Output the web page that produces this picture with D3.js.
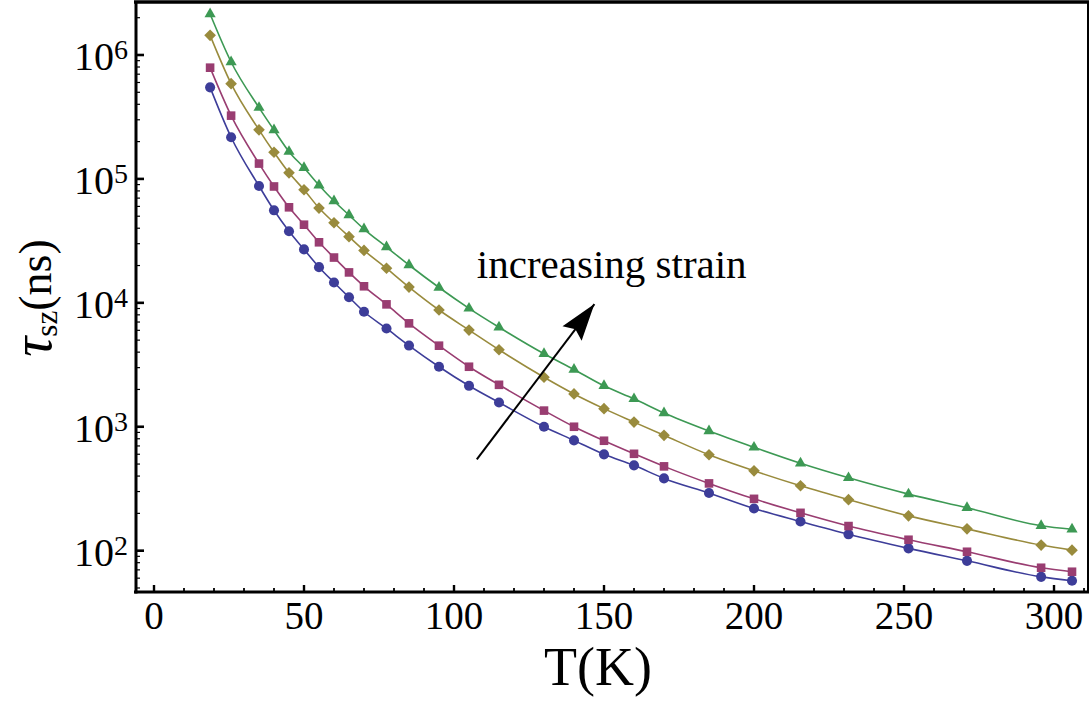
<!DOCTYPE html>
<html>
<head>
<meta charset="utf-8">
<script src="https://cdn.jsdelivr.net/npm/d3@7"></script>
<style>
  html, body { margin: 0; padding: 0; background: #fff; }
  svg { display: block; }
  text { font-family: "Liberation Serif", "Times New Roman", serif; fill: #000; }
</style>
</head>
<body>
<svg id="chart" width="1091" height="704"></svg>
<script>
// ---- data ----
const temps = [18.7, 25.7, 35, 40, 45, 50, 55, 60, 65, 70, 77.5, 85, 95, 105, 115, 130, 140, 150, 160, 170, 185, 200, 215.5, 231.5, 251.5, 271, 295.7, 306];
const seriesNames = ["s1", "s2", "s3", "s4"];
const s1 = [548000, 217000, 87700, 55800, 37800, 27000, 19400, 14600, 11100, 8470, 6210, 4520, 3050, 2140, 1570, 1000, 776, 599, 488, 383, 292, 219, 172, 135.5, 104.4, 82.8, 61.5, 57.2];
const s2 = [790000, 324000, 133000, 86900, 59000, 42700, 30800, 23200, 17600, 13600, 9720, 6830, 4510, 3050, 2180, 1350, 1000, 771, 605, 479, 349, 262, 202, 158, 122.5, 98, 72.8, 67.6];
const s3 = [1440000, 587000, 249000, 164000, 112000, 81800, 58200, 44300, 34200, 26500, 19000, 13400, 8750, 6030, 4180, 2510, 1840, 1400, 1090, 853, 594, 441, 334, 258, 191, 150, 111, 101];
const s4 = [2140000, 878000, 376000, 248000, 166000, 123000, 89000, 66300, 51100, 39400, 28200, 20200, 13300, 9030, 6350, 3880, 2900, 2140, 1680, 1290, 923, 682, 507, 387, 286, 222, 159, 149];
const xMajorTicks = [0, 50, 100, 150, 200, 250, 300];
const yMajorExps = [2, 3, 4, 5, 6];
const annotationText = "increasing strain";
const xTitle = "T(K)";

// ---- layout ----
const colors = ["#3d3d99", "#993d71", "#998b3d", "#3d9954"];
const L = 136, R = 1088, T = 2, B = 592;
const svg = d3.select("#chart");
svg.append("rect").attr("width", 1091).attr("height", 704).attr("fill", "#fff");

const x = d3.scaleLinear().domain([-6, 311.33]).range([L, R]);
const y = d3.scaleLog().domain([46.4, 2.677e6]).range([B, T]);

// series lines and markers
const allSeries = [s1, s2, s3, s4];
const line = d3.line().x(d => x(d[0])).y(d => y(d[1])).curve(d3.curveMonotoneX);
const symbols = [
  d3.symbol().type(d3.symbolCircle).size(80),
  d3.symbol().type(d3.symbolSquare).size(74),
  d3.symbol().type(d3.symbolSquare).size(68),
  d3.symbol().type(d3.symbolTriangle).size(54)
];
allSeries.forEach((vals, i) => {
  const pts = temps.map((t, k) => [t, vals[k]]);
  const g = svg.append("g").attr("class", "series-" + seriesNames[i]);
  g.append("path").attr("d", line(pts)).attr("fill", "none")
    .attr("stroke", colors[i]).attr("stroke-width", 1.6);
  g.selectAll("path.m").data(pts).join("path").attr("class", "m")
    .attr("d", symbols[i])
    .attr("transform", d => `translate(${x(d[0])},${y(d[1])})` + (i === 2 ? " rotate(45)" : ""))
    .attr("fill", colors[i]);
});

// ---- frame ----
const frame = svg.append("g");
frame.append("line").attr("x1", L - 2).attr("x2", R + 1).attr("y1", T).attr("y2", T).attr("stroke", "#000").attr("stroke-width", 3.5);
frame.append("line").attr("x1", R).attr("x2", R).attr("y1", T).attr("y2", B).attr("stroke", "#000").attr("stroke-width", 2);
frame.append("line").attr("x1", L).attr("x2", L).attr("y1", T).attr("y2", B + 1.5).attr("stroke", "#000").attr("stroke-width", 3);
frame.append("line").attr("x1", L - 2).attr("x2", R + 1).attr("y1", B).attr("y2", B).attr("stroke", "#000").attr("stroke-width", 3);

// x ticks (inward)
const xMinor = d3.range(0, 311, 10).filter(v => !xMajorTicks.includes(v));
svg.append("g").selectAll("line").data(xMinor).join("line")
  .attr("x1", d => x(d)).attr("x2", d => x(d)).attr("y1", B).attr("y2", B - 4)
  .attr("stroke", "#000").attr("stroke-width", 1.8);
svg.append("g").selectAll("line").data(xMajorTicks).join("line")
  .attr("x1", d => x(d)).attr("x2", d => x(d)).attr("y1", B).attr("y2", B - 7)
  .attr("stroke", "#000").attr("stroke-width", 2.4);
svg.append("g").selectAll("text").data(xMajorTicks).join("text")
  .attr("x", d => x(d)).attr("y", 629).attr("text-anchor", "middle")
  .attr("font-size", 39).text(d => d);

// y ticks (inward)
const yMinor = [];
for (let e = 1; e <= 6; e++) for (let m = 2; m <= 9; m++) {
  const v = m * Math.pow(10, e);
  if (v >= y.domain()[0] && v <= y.domain()[1]) yMinor.push(v);
}
svg.append("g").selectAll("line").data(yMinor).join("line")
  .attr("x1", L).attr("x2", L + 4).attr("y1", d => y(d)).attr("y2", d => y(d))
  .attr("stroke", "#000").attr("stroke-width", 1.2);
svg.append("g").selectAll("line").data(yMajorExps).join("line")
  .attr("x1", L).attr("x2", L + 8).attr("y1", d => y(Math.pow(10, d))).attr("y2", d => y(Math.pow(10, d)))
  .attr("stroke", "#000").attr("stroke-width", 2.6);
const yl = svg.append("g").selectAll("text").data(yMajorExps).join("text")
  .attr("x", 128).attr("y", d => y(Math.pow(10, d)) + 15).attr("text-anchor", "end")
  .attr("font-size", 40);
yl.append("tspan").text("10");
yl.append("tspan").attr("font-size", 28).attr("dy", -11).text(d => d);

// axis titles
svg.append("text").attr("x", 598).attr("y", 685).attr("text-anchor", "middle")
  .attr("font-size", 54).text(xTitle);
const yt = svg.append("text").attr("transform", "translate(51,298) rotate(-90)")
  .attr("text-anchor", "middle").attr("font-size", 46);
yt.append("tspan").attr("font-style", "italic").attr("font-size", 56).text("τ");
yt.append("tspan").attr("font-size", 31).attr("dy", 6).text("sz");
yt.append("tspan").attr("dy", -6).text("(ns)");

// annotation: text + arrow (placed in data coordinates)
svg.append("text").attr("x", x(107.6)).attr("y", y(15800)).attr("font-size", 41).text(annotationText);
const ax0 = x(107.6), ay0 = y(546), ax1 = x(146.8), ay1 = y(9772);
svg.append("line").attr("x1", ax0).attr("y1", ay0).attr("x2", ax1).attr("y2", ay1)
  .attr("stroke", "#000").attr("stroke-width", 2);
const ang = Math.atan2(ay1 - ay0, ax1 - ax0);
const hl = 37, hw = 12;
const bx = ax1 - hl * Math.cos(ang), by = ay1 - hl * Math.sin(ang);
const nx = -Math.sin(ang), ny = Math.cos(ang);
const nb = 0.85;
svg.append("path")
  .attr("d", `M${ax1},${ay1} L${bx + hw * nx},${by + hw * ny} L${ax1 - hl * nb * Math.cos(ang)},${ay1 - hl * nb * Math.sin(ang)} L${bx - hw * nx},${by - hw * ny} Z`)
  .attr("fill", "#000");
</script>
</body>
</html>
